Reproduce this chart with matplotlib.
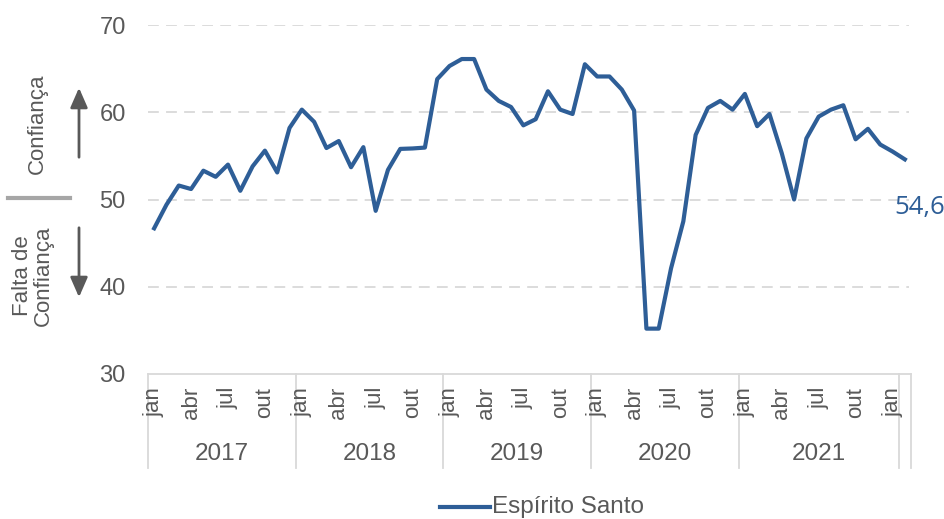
import matplotlib
matplotlib.use("Agg")
import matplotlib.pyplot as plt
from matplotlib.patches import FancyArrowPatch
from matplotlib.lines import Line2D

plt.rcParams["font.family"] = ["Liberation Sans", "DejaVu Sans"]

# ---- data (monthly index, jan/2017 .. fev/2022) ----
values_2017 = [46.7, 49.4, 51.6, 51.2, 53.3, 52.6, 54.0, 51.0, 53.8, 55.6, 53.1, 58.2]
values_2018 = [60.3, 58.9, 55.9, 56.7, 53.7, 56.0, 48.7, 53.4, 55.8, 55.85, 55.95, 63.8]
values_2019 = [65.3, 66.1, 66.1, 62.6, 61.3, 60.6, 58.5, 59.2, 62.4, 60.3, 59.8, 65.5]
values_2020 = [64.1, 64.1, 62.6, 60.2, 35.2, 35.2, 42.1, 47.5, 57.4, 60.5, 61.3, 60.3]
values_2021 = [62.1, 58.4, 59.8, 55.3, 50.0, 57.0, 59.5, 60.3, 60.8, 56.9, 58.1, 56.3]
values_2022 = [55.5, 54.6]
series = values_2017 + values_2018 + values_2019 + values_2020 + values_2021 + values_2022

month_names = ["jan", "abr", "jul", "out"]          # every third month is labelled
year_labels = ["2017", "2018", "2019", "2020", "2021", ""]
year_starts = [0, 12, 24, 36, 48, 61]                # category groups as in the source sheet
last_label = "54,6"

BLUE = "#2E5E97"
GREY = "#595959"
LIGHT = "#D9D9D9"

W, H = 944, 519
fig = plt.figure(figsize=(W / 100, H / 100), dpi=100)


def fx(x):
    return x / W


def fy(y):
    return 1 - y / H


ax = fig.add_axes([fx(148), fy(374), fx(911) - fx(148), fy(25) - fy(374)])
n = len(series)
x = list(range(n))
ax.plot(x, series, color=BLUE, linewidth=3, solid_joinstyle="round", zorder=3)
ax.set_xlim(-0.5, n - 0.5)
ax.set_ylim(30, 70)

for v in [40, 50, 60, 70]:
    ax.axhline(v, xmin=0, xmax=0.997, color=LIGHT, linewidth=1.3,
               linestyle=(0, (6, 4)), zorder=1)
for s in ["top", "right", "left"]:
    ax.spines[s].set_visible(False)
ax.spines["bottom"].set_color(LIGHT)
ax.spines["bottom"].set_linewidth(1.3)
ax.set_yticks([30, 40, 50, 60, 70])
ax.set_yticklabels([str(v) for v in [30, 40, 50, 60, 70]], fontsize=17, color=GREY)
ax.tick_params(axis="y", length=0, pad=16)
ax.set_xticks([])

# month labels
tr = ax.get_xaxis_transform()
month_h = 349.0
for i in range(0, n, 3):
    ax.text(i, -13 / month_h, month_names[(i // 3) % 4], rotation=90,
            ha="center", va="top", fontsize=16, color=GREY, transform=tr)

# year groups
bounds = year_starts + [n]
for i, lab in enumerate(year_labels):
    a, b = bounds[i] - 0.5, bounds[i + 1] - 0.5
    if lab:
        ax.text((a + b) / 2, -80 / month_h, lab, ha="center", va="center",
                fontsize=17.5, color=GREY, transform=tr)
for b in bounds:
    ax.add_line(Line2D([b - 0.5, b - 0.5], [0, -94 / month_h], color=LIGHT,
                       linewidth=1.3, transform=tr, clip_on=False))

# last value label
fig.text(fx(894), fy(207), last_label, ha="left", va="center", fontsize=18.5,
         color=BLUE, family=["Open Sans", "DejaVu Sans"])

# left side annotation: confidence arrows
fig.text(fx(37), fy(124), "Confiança", rotation=90, ha="center", va="center",
         fontsize=16, color=GREY)
fig.text(fx(33), fy(276), "Falta de\nConfiança", rotation=90, ha="center",
         va="center", fontsize=16, color=GREY, linespacing=0.95)
fig.add_artist(Line2D([fx(8), fx(70)], [fy(198), fy(198)], color="#A6A6A6",
                      linewidth=3, transform=fig.transFigure))
for y0, y1 in [(160, 85), (225, 300)]:
    fig.add_artist(FancyArrowPatch((fx(79), fy(y0)), (fx(79), fy(y1)),
                                   arrowstyle="-|>,head_length=0.8,head_width=0.35",
                                   mutation_scale=15, color=GREY, linewidth=2,
                                   transform=fig.transFigure))

# legend
fig.add_artist(Line2D([fx(440), fx(490)], [fy(507), fy(507)], color=BLUE,
                      linewidth=3, transform=fig.transFigure))
fig.text(fx(492), fy(507), "Espírito Santo", ha="left", va="center",
         fontsize=17.5, color=GREY)

fig.savefig("out.png", dpi=100)
